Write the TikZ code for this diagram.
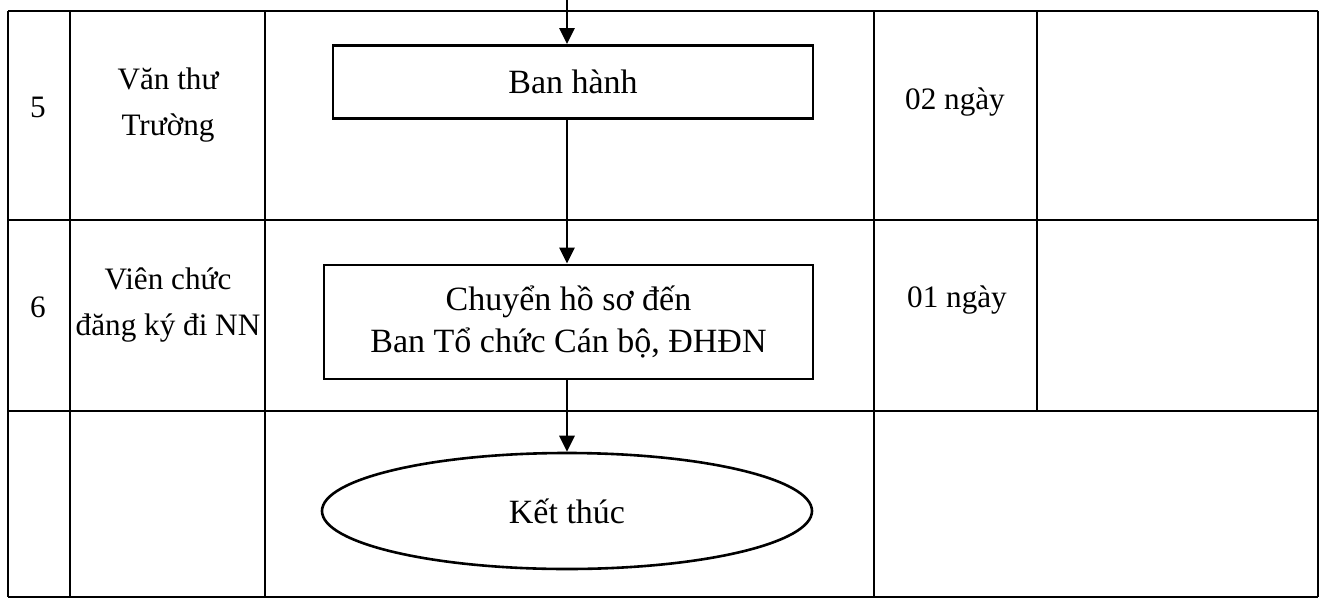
\documentclass[tikz,border=0pt]{standalone}
\usepackage{fontspec}
\setmainfont{Liberation Serif}
\usetikzlibrary{arrows.meta,shapes.geometric}
\begin{document}
\begin{tikzpicture}[x=0.5pt,y=-0.5pt,
  grid/.style={line width=0.9pt},
  txt/.style={font=\fontsize{15.6pt}{23pt}\selectfont, align=center, inner sep=0pt},
  stepbox/.style={draw, line width=1.4pt, font=\fontsize{17pt}{21pt}\selectfont, align=center, inner sep=0pt},
  endshape/.style={draw, ellipse, line width=1.3pt, font=\fontsize{17pt}{21pt}\selectfont, minimum width=245pt, minimum height=58pt, inner sep=0pt},
  flow/.style={line width=1.4pt, -{Triangle[length=8pt,width=7.5pt]}}]
\useasboundingbox (0,0) rectangle (1329,600);
% table grid
\draw[grid] (8,11) -- (1318,11);
\draw[grid] (8,220) -- (1318,220);
\draw[grid] (8,411) -- (1318,411);
\draw[grid] (8,597) -- (1318,597);
\draw[grid] (8,11) -- (8,597);
\draw[grid] (70,11) -- (70,597);
\draw[grid] (265,11) -- (265,597);
\draw[grid] (874,11) -- (874,597);
\draw[grid] (1037,11) -- (1037,411);
\draw[grid] (1318,11) -- (1318,597);
% cell texts
\node[txt] (n5) at (38,107) {5};
\node[txt] (r5) at (168,105) {Văn thư\\Trường};
\node[txt] (d5) at (955,102) {02 ngày};
\node[txt] (n6) at (38,307) {6};
\node[txt] (r6) at (168,305) {Viên chức\\đăng ký đi NN};
\node[txt] (d6) at (957,300) {01 ngày};
% flow
\coordinate (top) at (567,0);
\node[stepbox, minimum width=240pt, minimum height=36.5pt] (ban) at (573,82) {Ban hành};
\node[stepbox, minimum width=244.5pt, minimum height=57pt] (chuyen) at (568.5,322) {Chuyển hồ sơ đến\\Ban Tổ chức Cán bộ, ĐHĐN};
\node[endshape] (ket) at (567,511) {Kết thúc};
\draw[flow] (top) -- (top |- ban.north);
\draw[flow] (top |- ban.south) -- (top |- chuyen.north);
\draw[flow] (top |- chuyen.south) -- (top |- ket.north);
\end{tikzpicture}
\end{document}
